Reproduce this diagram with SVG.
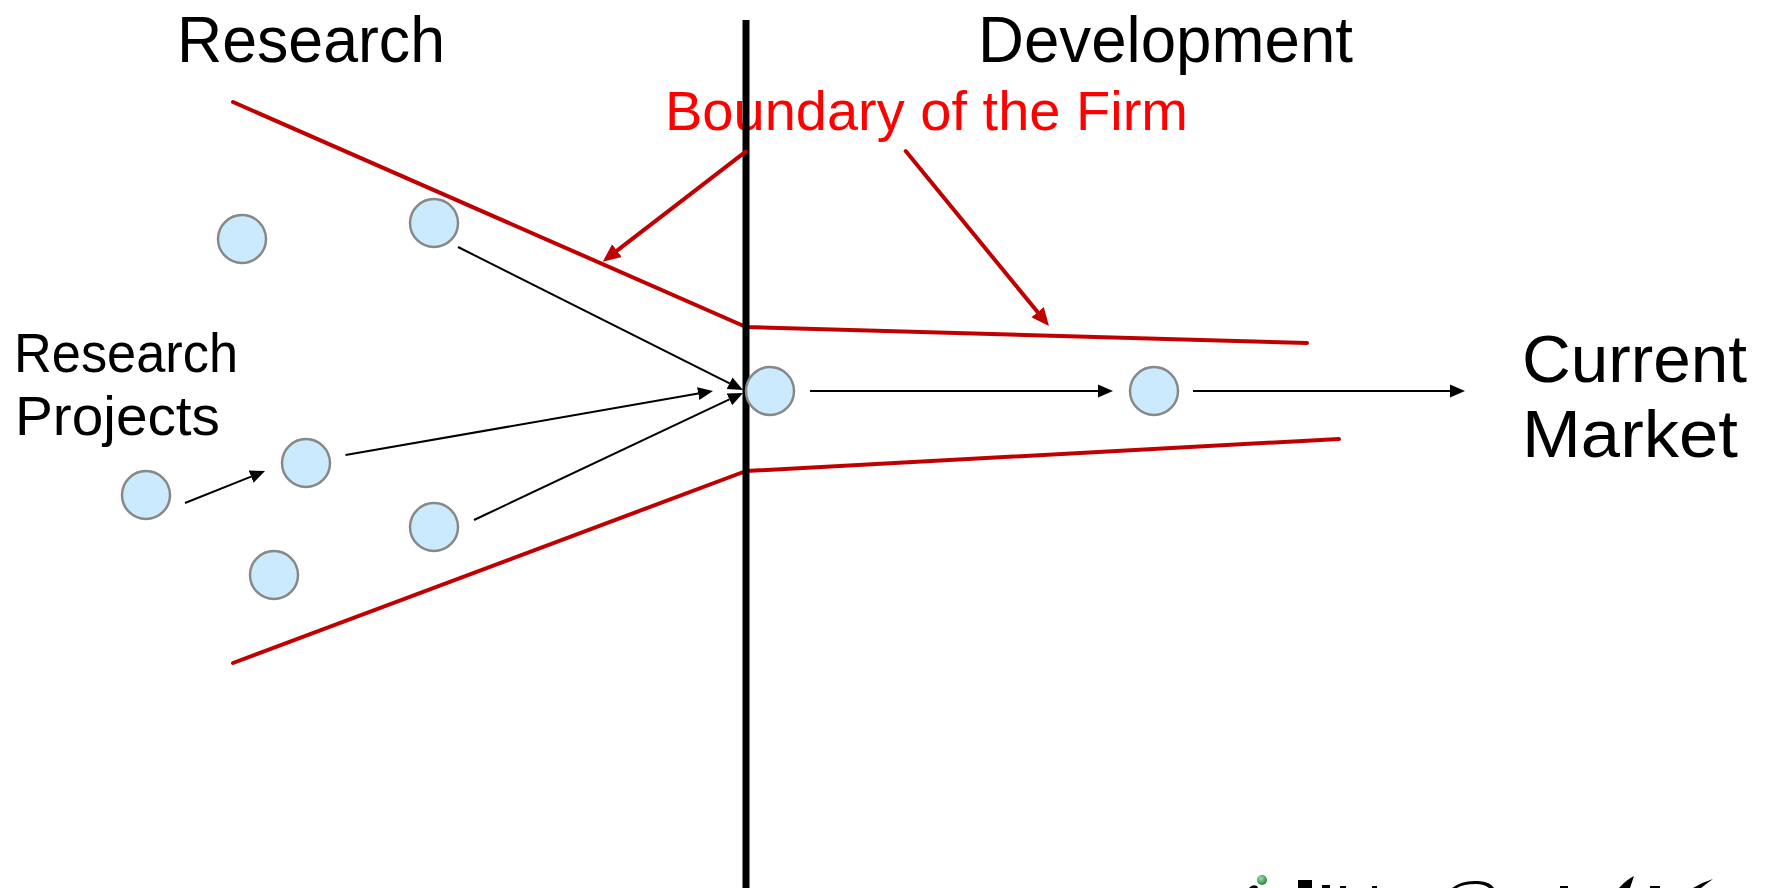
<svg xmlns="http://www.w3.org/2000/svg" width="1767" height="888" viewBox="0 0 1767 888">
  <style>
    .lbl { font-family: "Liberation Sans", Arial, sans-serif; fill: #000; }
    .red-lbl { font-family: "Liberation Sans", Arial, sans-serif; fill: #FF0000; }
    .proj { fill: #CCEAFD; stroke: #888888; stroke-width: 2.5; }
    .bnd { fill: none; stroke: #C00000; stroke-width: 4; stroke-linejoin: round; stroke-linecap: round; }
    .conn { fill: none; stroke: #000; stroke-width: 2; }
    .rconn { fill: none; stroke: #C00000; stroke-width: 4; stroke-linecap: round; }
  </style>
  <defs>
    <marker id="ah" viewBox="0 -7 15 14" refX="0" refY="0" markerWidth="15" markerHeight="14" markerUnits="userSpaceOnUse" orient="auto">
      <path d="M0,-6.5 L15,0 L0,6.5 z" fill="#000"/>
    </marker>
    <marker id="rah" viewBox="0 -9 18 18" refX="0" refY="0" markerWidth="18" markerHeight="18" markerUnits="userSpaceOnUse" orient="auto">
      <path d="M0,-8 L18,0 L0,8 z" fill="#C00000"/>
    </marker>
    <radialGradient id="gball" cx="0.4" cy="0.35" r="0.7">
      <stop offset="0" stop-color="#9fe0b0"/>
      <stop offset="1" stop-color="#1f7a3a"/>
    </radialGradient>
  </defs>

  <rect width="1767" height="888" fill="#fff"/>

  <g id="headings">
    <text class="lbl" x="177" y="62" font-size="64" textLength="268" lengthAdjust="spacingAndGlyphs">Research</text>
    <text class="lbl" x="978" y="62" font-size="64" textLength="375" lengthAdjust="spacingAndGlyphs">Development</text>
  </g>

  <g id="boundary-label">
    <text class="red-lbl" x="665" y="130" font-size="56" textLength="523" lengthAdjust="spacingAndGlyphs">Boundary of the Firm</text>
  </g>

  <g id="research-projects-label">
    <text class="lbl" x="14" y="372" font-size="55" textLength="224" lengthAdjust="spacingAndGlyphs">Research</text>
    <text class="lbl" x="15" y="435" font-size="55" textLength="205" lengthAdjust="spacingAndGlyphs">Projects</text>
  </g>

  <g id="current-market-label">
    <text class="lbl" x="1522" y="382" font-size="66" textLength="225" lengthAdjust="spacingAndGlyphs">Current</text>
    <text class="lbl" x="1522" y="457" font-size="66" textLength="216" lengthAdjust="spacingAndGlyphs">Market</text>
  </g>

  <g id="firm-boundary">
    <polyline class="bnd" points="233,102 746,327 1307,343"/>
    <polyline class="bnd" points="233,663 746,471 1339,439"/>
  </g>

  <g id="divider">
    <line x1="746" y1="20" x2="746" y2="888" stroke="#000" stroke-width="7"/>
  </g>

  <g id="connectors">
    <path class="rconn" d="M745.7,151.7 L617,250.7" marker-end="url(#rah)"/>
    <path class="rconn" d="M905.7,151 L1037.6,312.1" marker-end="url(#rah)"/>
    <path class="conn" d="M185,503 L251.1,476.6" marker-end="url(#ah)"/>
    <path class="conn" d="M345.5,455 L698.2,393.6" marker-end="url(#ah)"/>
    <path class="conn" d="M458,247 L729.6,383.3" marker-end="url(#ah)"/>
    <path class="conn" d="M474,520 L729.4,399.4" marker-end="url(#ah)"/>
    <path class="conn" d="M810,391 L1098,391" marker-end="url(#ah)"/>
    <path class="conn" d="M1193,391 L1450,391" marker-end="url(#ah)"/>
  </g>

  <g id="project-a"><circle class="proj" cx="242" cy="239" r="24"/></g>
  <g id="project-b"><circle class="proj" cx="434" cy="223" r="24"/></g>
  <g id="project-c"><circle class="proj" cx="306" cy="463" r="24"/></g>
  <g id="project-d"><circle class="proj" cx="146" cy="495" r="24"/></g>
  <g id="project-e"><circle class="proj" cx="434" cy="527" r="24"/></g>
  <g id="project-f"><circle class="proj" cx="274" cy="575" r="24"/></g>
  <g id="project-g"><circle class="proj" cx="770" cy="391" r="24"/></g>
  <g id="project-h"><circle class="proj" cx="1154" cy="391" r="24"/></g>

  <g id="logo-fragment">
    <circle cx="1262" cy="880" r="5" fill="url(#gball)"/>
    <path d="M1249,888 Q1252,884 1257,886 L1258,888 z" fill="#000"/>
    <rect x="1298" y="880" width="14" height="8" fill="#000"/>
    <rect x="1322" y="885" width="8" height="3" fill="#000"/>
    <rect x="1340" y="886" width="6" height="2" fill="#000"/>
    <rect x="1372" y="886" width="5" height="2" fill="#000"/>
    <path d="M1452,888 Q1462,880 1478,881 Q1491,882 1494,888 L1489,888 Q1484,884 1476,884 Q1463,884 1457,888 z" fill="#000"/>
    <rect x="1560" y="886" width="8" height="2" fill="#000"/>
    <path d="M1619,888 Q1626,880 1634,876 L1630,888 z" fill="#000"/>
    <path d="M1650,886 L1660,886 L1660,888 L1650,888 z" fill="#000"/>
    <path d="M1693,888 Q1703,882 1713,879 Q1706,884 1701,888 z" fill="#000"/>
  </g>
</svg>
